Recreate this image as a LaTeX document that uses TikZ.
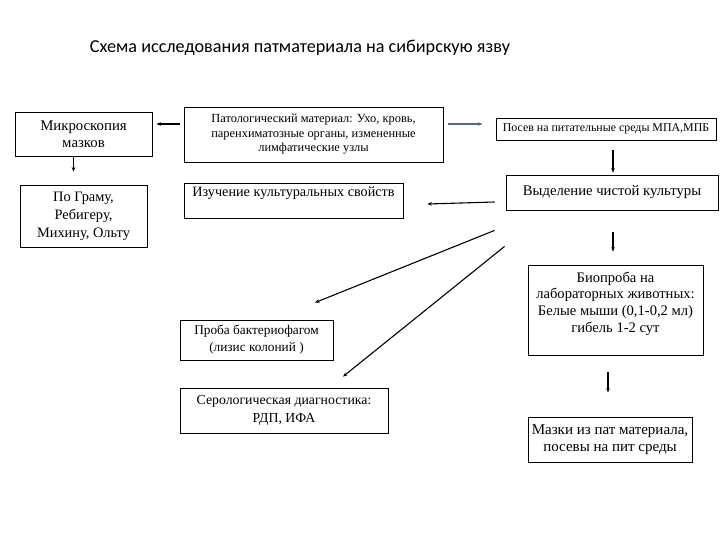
\documentclass[tikz,border=0pt]{standalone}
\usepackage{fontspec}
\setmainfont{Liberation Serif}
\newfontfamily\titlefont{Carlito}
\usetikzlibrary{arrows.meta}
\definecolor{bluegray}{RGB}{90,104,135}
\tikzset{
  box/.style={draw=black, line width=0.8pt, align=center, inner sep=2pt},
  arr/.style={draw=black, line width=1.1pt, -{Stealth[length=4.5pt,width=3.5pt]}}
}
\begin{document}
\begin{tikzpicture}[x=1pt,y=-1pt]
\useasboundingbox (0,0) rectangle (720,540);
\fill[white] (0,0) rectangle (720,540);
\node[font=\titlefont\fontsize{18.2}{21}\selectfont] (title) at (300,48) {Схема исследования патматериала на сибирскую язву};

\node[box, minimum width=137pt, minimum height=44pt, font=\fontsize{14.8}{17}\selectfont] (micro) at (83.5,134) {Микроскопия\\мазков};
\node[box, minimum width=127pt, minimum height=62pt, font=\fontsize{14.4}{18}\selectfont] (gramu) at (83.5,216) {По Граму,\\Ребигеру,\\Михину, Ольту};
\node[box, minimum width=259pt, minimum height=55pt, text depth=3pt, font=\fontsize{12.4}{14.6}\selectfont] (patho) at (313.5,134.5) {Патологический материал: Ухо, кровь,\\паренхиматозные органы, измененные\\лимфатические узлы};
\node[box, minimum width=219pt, minimum height=35pt, text depth=18pt, font=\fontsize{14.2}{16}\selectfont] (izuch) at (293.5,200.5) {Изучение культуральных свойств};
\node[box, minimum width=220pt, minimum height=22pt, font=\fontsize{11.9}{14}\selectfont] (posev) at (606,129) {Посев на питательные среды МПА,МПБ};
\node[box, minimum width=212pt, minimum height=35pt, font=\fontsize{14.7}{16}\selectfont] (vydel) at (612,192.5) {Выделение чистой культуры};
\node[box, minimum width=153pt, minimum height=40pt, font=\fontsize{13.3}{17}\selectfont] (proba) at (256.5,340) {Проба бактериофагом\\(лизис колоний )};
\node[box, minimum width=208pt, minimum height=45pt, font=\fontsize{13.8}{17.5}\selectfont] (serol) at (284,410.5) {Серологическая диагностика:\\РДП, ИФА};
\node[box, minimum width=175pt, minimum height=90pt, text depth=16pt, font=\fontsize{14.6}{16.8}\selectfont] (bio) at (615.5,310) {Биопроба на\\лабораторных животных:\\Белые мыши (0,1-0,2 мл)\\гибель 1-2 сут};
\node[box, minimum width=164pt, minimum height=45pt, font=\fontsize{15}{17.5}\selectfont] (mazki) at (610,439.5) {Мазки из пат материала,\\посевы на пит среды};

\draw[arr] ([shift={(-4,-10.5)}]patho.west) -- ([shift={(4,-10)}]micro.east);
\draw[arr] ([shift={(-10,0)}]micro.south) -- ([shift={(-10,-13)}]gramu.north);
\draw[arr, draw=bluegray] ([shift={(5,-10.5)}]patho.east) -- ([shift={(-13,-5)}]posev.west);
\draw[arr] ([shift={(7,10)}]posev.south) -- ([shift={(1,-2)}]vydel.north);
\draw[arr] ([shift={(-11,9.5)}]vydel.west) -- ([shift={(24,3.5)}]izuch.east);
\draw[arr] ([shift={(-11,20)}]vydel.south west) -- ([shift={(58.5,-17)}]proba.north);
\draw[arr] ([shift={(-1,36)}]vydel.south west) -- ([shift={(59,-11)}]serol.north);
\draw[arr] ([shift={(1,22)}]vydel.south) -- ([shift={(-2.5,-13)}]bio.north);
\draw[arr] ([shift={(-7.5,17)}]bio.south) -- ([shift={(-2,-24)}]mazki.north);
\end{tikzpicture}
\end{document}
